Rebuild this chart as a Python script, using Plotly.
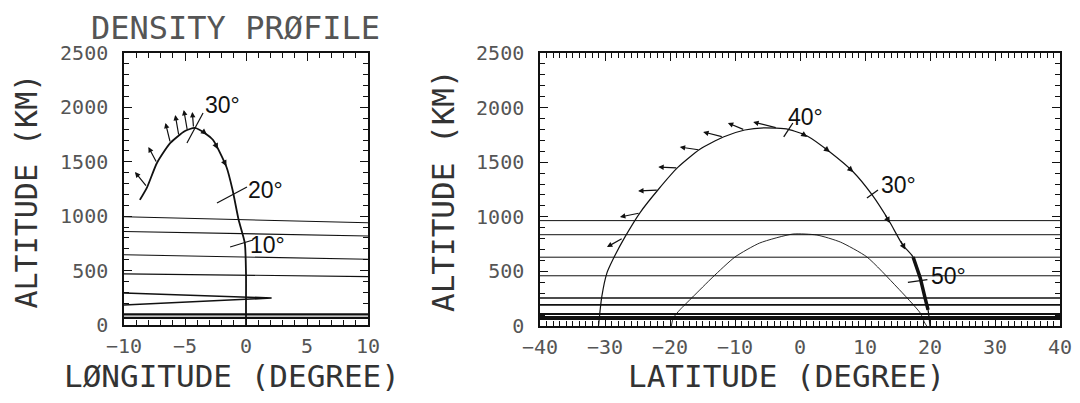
import plotly.graph_objects as go

# ---------------- data ----------------
# Left panel: trajectory in longitude / altitude
lon_traj = [-8.7, -8.1, -7.3, -6.2, -5.0, -4.2, -3.4, -2.7, -1.6, -1.1, -0.6, -0.1, 0.0, 0.0, 0.0]
alt_traj_l = [1150, 1268, 1489, 1673, 1783, 1811, 1765, 1700, 1452, 1241, 965, 754, 478, 165, 0]

# outward arrows on the left trajectory (base on curve -> tip)
l_arrow_base_lon = [-8.1, -7.3, -6.2, -5.5, -4.8, -4.3]
l_arrow_base_alt = [1268, 1489, 1673, 1737, 1783, 1811]
l_arrow_tip_lon = [-9.1, -8.0, -6.6, -5.8, -5.1, -4.4]
l_arrow_tip_alt = [1406, 1636, 1857, 1930, 1976, 1958]

# small tangent arrows along the descending branch (left)
l_tan_base_lon = [-3.6, -2.6, -1.9]
l_tan_base_alt = [1785, 1680, 1525]
l_tan_tip_lon = [-3.2, -2.3, -1.6]
l_tan_tip_alt = [1750, 1615, 1460]

# latitude marks on left trajectory: label, cross segment, label position
l_mark_text = ["30°", "20°", "10°"]
l_mark_x0 = [-4.84, -2.38, -1.3]
l_mark_y0 = [1673, 1121, 717]
l_mark_x1 = [-3.52, 0.08, 0.57]
l_mark_y1 = [1949, 1268, 781]
l_label_lon = [-1.9, 1.6, 1.8]
l_label_alt = [2025, 1241, 735]

# density contour lines (left panel): altitude at lon=-10 and lon=+10
l_cont_left = [995, 860, 645, 470]
l_cont_right = [940, 818, 605, 445]
# wedge contour (lon, alt)
wedge_lon = [-10, 2.1, -10]
wedge_alt = [294, 248, 184]
# thick low-altitude lines (left)
l_low_alt = [97, 66]
lon_range = [-10, 10]

# Right panel: trajectory in latitude / altitude
lat_traj = [-31.0, -30.5, -29.7, -28.8, -26.9, -24.6, -21.8, -18.8, -15.4, -11.8, -8.5, -5.5,
            -1.8, 1.1, 4.6, 8.2, 11.1, 13.8, 15.8, 17.4, 18.5, 19.2, 19.7, 20.0]
alt_traj_r = [0, 267, 487, 607, 818, 1039, 1250, 1452, 1618, 1731, 1795, 1815,
              1801, 1740, 1593, 1410, 1200, 952, 742, 632, 440, 266, 147, 0]
# thick lower part of the descending branch
lat_thick = [17.4, 18.5, 19.2, 19.7]
alt_thick = [632, 440, 266, 147]

# second (inner) arc
lat_arc = [-19.8, -19.5, -18.5, -16.5, -13.4, -10.0, -6.2, -1.1, 2.6, 6.2, 10.3, 14.9, 18.5, 19.2, 19.5]
alt_arc = [0, 73, 147, 266, 449, 632, 760, 842, 833, 769, 632, 357, 119, 27, 0]

r_arrow_base_lat = [-27.2, -24.6, -21.8, -18.8, -15.4, -11.8, -8.5, -3.5]
r_arrow_base_alt = [806, 1035, 1245, 1447, 1612, 1731, 1795, 1813]
r_arrow_tip_lat = [-29.7, -27.7, -24.9, -21.8, -18.5, -14.9, -11.1, -7.2]
r_arrow_tip_alt = [723, 998, 1236, 1456, 1639, 1777, 1859, 1868]

r_tan_base_lat = [0.0, 3.6, 7.2, 13.0, 15.4]
r_tan_base_alt = [1775, 1640, 1465, 1030, 790]
r_tan_tip_lat = [1.1, 4.6, 8.2, 13.8, 16.2]
r_tan_tip_alt = [1731, 1593, 1410, 943, 700]

r_mark_text = ["40°", "30°", "50°"]
r_mark_x0 = [-2.5, 10.3, 16.6]
r_mark_y0 = [1731, 1172, 400]
r_mark_x1 = [-1.1, 12.0, 19.6]
r_mark_y1 = [1859, 1245, 425]
r_label_lat = [0.9, 15.2, 22.8]
r_label_alt = [1914, 1291, 458]

r_cont_alt = [965, 836, 630, 460, 257, 193, 110, 83, 64]
lat_range = [-40, 40]

x_title_left = "LØNGITUDE (DEGREE)"
x_title_right = "LATITUDE (DEGREE)"
y_title = "ALTITUDE (KM)"
main_title = "DENSITY PRØFILE"

# ---------------- figure ----------------
# page body has an 8px margin: size the figure to fit the window and offset positions
OFF = 8
FW, FH = 1080 - 2 * OFF, 403 - 2 * OFF


def PX(x):
    return (x - OFF) / FW


def PY(y):
    return 1 - (y - OFF) / FH


fig = go.Figure()
BLACK = "#111"


def line(x, y, xa, ya, w=1.2, shape="linear", dash=None):
    fig.add_trace(go.Scatter(x=x, y=y, xaxis=xa, yaxis=ya, mode="lines",
                             line=dict(color=BLACK, width=w, shape=shape, dash=dash),
                             hoverinfo="skip", showlegend=False))


# left contours
for a, b in zip(l_cont_left, l_cont_right):
    line(lon_range, [a, b], "x", "y", 1.1)
line(wedge_lon, wedge_alt, "x", "y", 1.6)
for a in l_low_alt:
    line(lon_range, [a, a], "x", "y", 2.2)
# left trajectory
fig.add_trace(go.Scatter(x=lon_traj, y=alt_traj_l, xaxis="x", yaxis="y", mode="lines",
                         line=dict(color=BLACK, width=1.8, shape="spline", smoothing=0.6),
                         hoverinfo="skip", showlegend=False))
for i in range(len(l_mark_text)):
    line([l_mark_x0[i], l_mark_x1[i]], [l_mark_y0[i], l_mark_y1[i]], "x", "y", 1.2)

# right contours
for i, a in enumerate(r_cont_alt):
    w = 2.0 if a < 120 else (1.6 if a < 300 else 1.0)
    line(lat_range, [a, a], "x2", "y2", w)
fig.add_trace(go.Scatter(x=lat_traj, y=alt_traj_r, xaxis="x2", yaxis="y2", mode="lines",
                         line=dict(color=BLACK, width=1.2, shape="spline", smoothing=0.6),
                         hoverinfo="skip", showlegend=False))
line(lat_thick, alt_thick, "x2", "y2", 3.5)
fig.add_trace(go.Scatter(x=lat_arc, y=alt_arc, xaxis="x2", yaxis="y2", mode="lines",
                         line=dict(color=BLACK, width=0.9, shape="spline", smoothing=0.6),
                         hoverinfo="skip", showlegend=False))
for i in range(len(r_mark_text)):
    line([r_mark_x0[i], r_mark_x1[i]], [r_mark_y0[i], r_mark_y1[i]], "x2", "y2", 1.3)

ann = []


def arrow(xb, yb, xt, yt, xa, ya, size=0.9):
    ann.append(dict(x=xt, y=yt, ax=xb, ay=yb, xref=xa, yref=ya, axref=xa, ayref=ya,
                    showarrow=True, arrowhead=2, arrowsize=size, arrowwidth=1.2,
                    arrowcolor=BLACK, text=""))


for i in range(len(l_arrow_base_lon)):
    arrow(l_arrow_base_lon[i], l_arrow_base_alt[i], l_arrow_tip_lon[i], l_arrow_tip_alt[i], "x", "y")
for i in range(len(l_tan_base_lon)):
    arrow(l_tan_base_lon[i], l_tan_base_alt[i], l_tan_tip_lon[i], l_tan_tip_alt[i], "x", "y", 1.0)
for i in range(len(r_arrow_base_lat)):
    arrow(r_arrow_base_lat[i], r_arrow_base_alt[i], r_arrow_tip_lat[i], r_arrow_tip_alt[i], "x2", "y2")
for i in range(len(r_tan_base_lat)):
    arrow(r_tan_base_lat[i], r_tan_base_alt[i], r_tan_tip_lat[i], r_tan_tip_alt[i], "x2", "y2", 1.0)

LBL = dict(family="Liberation Sans", size=23, color=BLACK)
for t, x, y in zip(l_mark_text, l_label_lon, l_label_alt):
    ann.append(dict(x=x, y=y, xref="x", yref="y", text=t, showarrow=False, font=LBL,
                    xanchor="center", yanchor="middle"))
for t, x, y in zip(r_mark_text, r_label_lat, r_label_alt):
    ann.append(dict(x=x, y=y, xref="x2", yref="y2", text=t, showarrow=False, font=LBL,
                    xanchor="center", yanchor="middle"))


def paper_text(txt, x, y, size, color="#333", angle=0, xanchor="center", yanchor="middle"):
    ann.append(dict(x=PX(x), y=PY(y), xref="paper", yref="paper", text=txt, showarrow=False,
                    xanchor=xanchor, yanchor=yanchor, textangle=angle, borderpad=0,
                    font=dict(family="DejaVu Sans Mono", size=size, color=color)))


# bottom titles anchored to the figure's bottom edge so that they stay inside it
paper_text(x_title_left, 232, 403 - OFF, 31, yanchor="bottom")
paper_text(x_title_right, 786, 403 - OFF, 31, yanchor="bottom")
# vertical titles
paper_text(y_title, OFF, 191, 30, angle=-90, xanchor="left")
paper_text(y_title, 443, 191, 31, angle=-90)
# main title anchored to the figure's top edge
paper_text(main_title, 235, OFF, 32, color="#555", yanchor="top")

TICKF = dict(family="DejaVu Sans Mono", size=20, color="#555")


def ax_common(dtick, mdtick, rng, domain):
    return dict(range=rng, domain=domain, dtick=dtick, tick0=0, ticks="inside", ticklen=8,
                tickwidth=1.2, tickcolor=BLACK, showline=True, linecolor=BLACK, linewidth=1.5,
                mirror="allticks", showgrid=False, zeroline=False, tickfont=TICKF,
                automargin=False, ticklabeloverflow="allow",
                minor=dict(dtick=mdtick, tick0=0, ticks="inside", ticklen=5, tickwidth=1,
                           tickcolor=BLACK, showgrid=False),
                fixedrange=True)


fig.update_layout(
    width=FW, height=FH, margin=dict(l=0, r=0, t=0, b=0, autoexpand=False),
    paper_bgcolor="white", plot_bgcolor="white", showlegend=False,
    xaxis=dict(**ax_common(5, 1, lon_range, [PX(124), PX(368)]), anchor="y", ticklabelstandoff=2),
    yaxis=dict(**ax_common(500, 100, [0, 2500], [PY(325), PY(53)]), anchor="x", ticklabelstandoff=10),
    xaxis2=dict(**ax_common(10, 1, lat_range, [PX(540), PX(1060)]), anchor="y2", ticklabelstandoff=2),
    yaxis2=dict(**ax_common(500, 100, [0, 2500], [PY(326), PY(53)]), anchor="x2", ticklabelstandoff=10),
    annotations=ann,
)

fig.write_html("out.html")
